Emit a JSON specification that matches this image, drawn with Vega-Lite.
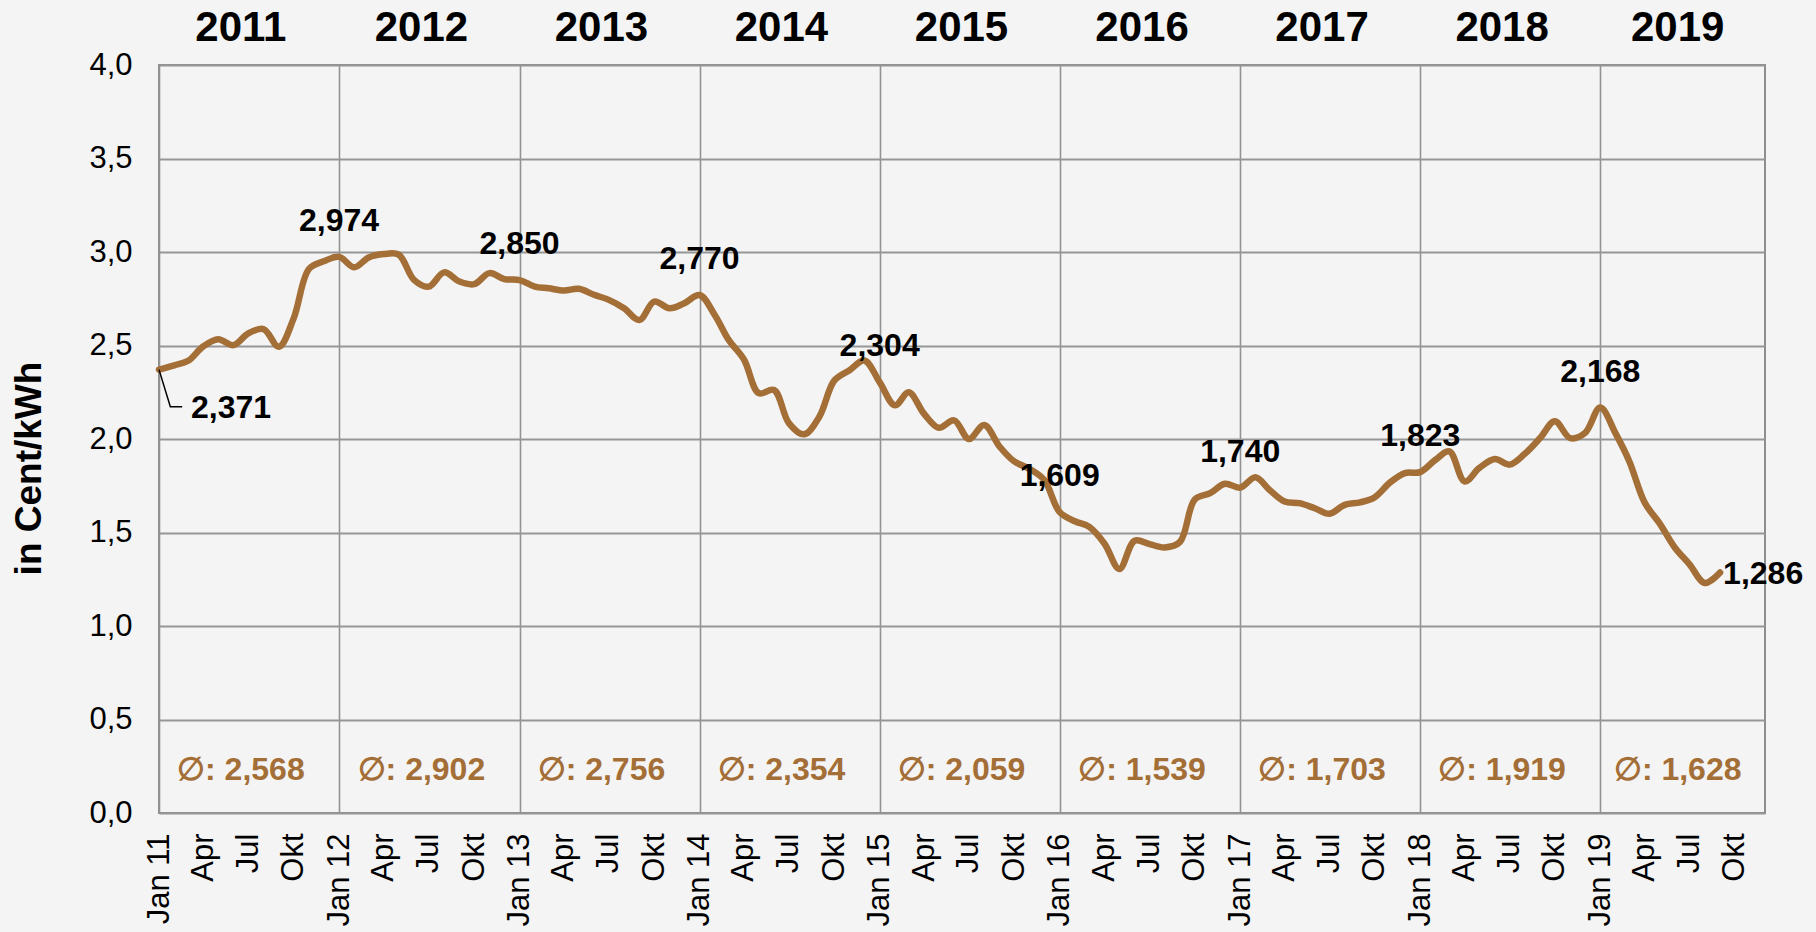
{
  "$schema": "https://vega.github.io/schema/vega-lite/v6.json",
  "width": 1606,
  "height": 748,
  "autosize": {"type": "none"},
  "padding": {"left": 159, "top": 65, "right": 51, "bottom": 119},
  "background": "#f4f4f4",
  "config": {
    "locale": {"number": {"decimal": ",", "thousands": ".", "grouping": [3], "currency": ["", " €"]}},
    "font": "Liberation Sans",
    "view": {"stroke": "#8e8e8e", "strokeWidth": 2}
  },
  "data": {
    "values": [
      {"month": "2011-01", "v": 2.371}, {"month": "2011-02", "v": 2.394}, {"month": "2011-03", "v": 2.418}, {"month": "2011-04", "v": 2.496},
      {"month": "2011-05", "v": 2.534}, {"month": "2011-06", "v": 2.502}, {"month": "2011-07", "v": 2.565}, {"month": "2011-08", "v": 2.588},
      {"month": "2011-09", "v": 2.493}, {"month": "2011-10", "v": 2.645}, {"month": "2011-11", "v": 2.909}, {"month": "2011-12", "v": 2.950},
      {"month": "2012-01", "v": 2.974}, {"month": "2012-02", "v": 2.918}, {"month": "2012-03", "v": 2.971}, {"month": "2012-04", "v": 2.989},
      {"month": "2012-05", "v": 2.986}, {"month": "2012-06", "v": 2.851}, {"month": "2012-07", "v": 2.815}, {"month": "2012-08", "v": 2.891},
      {"month": "2012-09", "v": 2.842}, {"month": "2012-10", "v": 2.828}, {"month": "2012-11", "v": 2.887}, {"month": "2012-12", "v": 2.855},
      {"month": "2013-01", "v": 2.850}, {"month": "2013-02", "v": 2.815}, {"month": "2013-03", "v": 2.806}, {"month": "2013-04", "v": 2.794},
      {"month": "2013-05", "v": 2.803}, {"month": "2013-06", "v": 2.771}, {"month": "2013-07", "v": 2.744}, {"month": "2013-08", "v": 2.699},
      {"month": "2013-09", "v": 2.636}, {"month": "2013-10", "v": 2.735}, {"month": "2013-11", "v": 2.699}, {"month": "2013-12", "v": 2.726},
      {"month": "2014-01", "v": 2.770}, {"month": "2014-02", "v": 2.662}, {"month": "2014-03", "v": 2.530}, {"month": "2014-04", "v": 2.425},
      {"month": "2014-05", "v": 2.245}, {"month": "2014-06", "v": 2.262}, {"month": "2014-07", "v": 2.085}, {"month": "2014-08", "v": 2.025},
      {"month": "2014-09", "v": 2.120}, {"month": "2014-10", "v": 2.312}, {"month": "2014-11", "v": 2.368}, {"month": "2014-12", "v": 2.420},
      {"month": "2015-01", "v": 2.304}, {"month": "2015-02", "v": 2.180}, {"month": "2015-03", "v": 2.250}, {"month": "2015-04", "v": 2.135},
      {"month": "2015-05", "v": 2.060}, {"month": "2015-06", "v": 2.100}, {"month": "2015-07", "v": 2.000}, {"month": "2015-08", "v": 2.075},
      {"month": "2015-09", "v": 1.960}, {"month": "2015-10", "v": 1.880}, {"month": "2015-11", "v": 1.840}, {"month": "2015-12", "v": 1.780},
      {"month": "2016-01", "v": 1.609}, {"month": "2016-02", "v": 1.560}, {"month": "2016-03", "v": 1.530}, {"month": "2016-04", "v": 1.440},
      {"month": "2016-05", "v": 1.305}, {"month": "2016-06", "v": 1.456}, {"month": "2016-07", "v": 1.438}, {"month": "2016-08", "v": 1.420},
      {"month": "2016-09", "v": 1.450}, {"month": "2016-10", "v": 1.677}, {"month": "2016-11", "v": 1.710}, {"month": "2016-12", "v": 1.761},
      {"month": "2017-01", "v": 1.740}, {"month": "2017-02", "v": 1.796}, {"month": "2017-03", "v": 1.729}, {"month": "2017-04", "v": 1.666},
      {"month": "2017-05", "v": 1.657}, {"month": "2017-06", "v": 1.630}, {"month": "2017-07", "v": 1.600}, {"month": "2017-08", "v": 1.648},
      {"month": "2017-09", "v": 1.661}, {"month": "2017-10", "v": 1.689}, {"month": "2017-11", "v": 1.768}, {"month": "2017-12", "v": 1.818},
      {"month": "2018-01", "v": 1.823}, {"month": "2018-02", "v": 1.889}, {"month": "2018-03", "v": 1.934}, {"month": "2018-04", "v": 1.773},
      {"month": "2018-05", "v": 1.845}, {"month": "2018-06", "v": 1.893}, {"month": "2018-07", "v": 1.863}, {"month": "2018-08", "v": 1.921},
      {"month": "2018-09", "v": 2.005}, {"month": "2018-10", "v": 2.095}, {"month": "2018-11", "v": 2.005}, {"month": "2018-12", "v": 2.032},
      {"month": "2019-01", "v": 2.168}, {"month": "2019-02", "v": 2.030}, {"month": "2019-03", "v": 1.880}, {"month": "2019-04", "v": 1.660},
      {"month": "2019-05", "v": 1.550}, {"month": "2019-06", "v": 1.420}, {"month": "2019-07", "v": 1.330}, {"month": "2019-08", "v": 1.230},
      {"month": "2019-09", "v": 1.286}
    ],
    "format": {"parse": {"month": "utc:'%Y-%m'"}}
  },
  "layer": [
    {
      "mark": {"type": "line", "color": "#a46e37", "strokeWidth": 6.5, "interpolate": "catmull-rom", "strokeCap": "round", "strokeJoin": "round"},
      "encoding": {
        "x": {
          "field": "month", "type": "temporal", "title": null,
          "scale": {"type": "utc", "domain": [{"year": 2011, "month": 1, "date": 1, "utc": true}, {"year": 2019, "month": 12, "date": 1, "utc": true}], "nice": false},
          "axis": {
            "tickCount": {"interval": "month", "step": 3},
            "labelExpr": "utcmonth(datum.value) == 0 ? 'Jan ' + utcFormat(datum.value, '%y') : (utcmonth(datum.value) == 3 ? 'Apr' : (utcmonth(datum.value) == 6 ? 'Jul' : 'Okt'))",
            "labelAngle": 270, "labelAlign": "right", "labelBaseline": "middle",
            "labelFontSize": 31, "labelColor": "#000000", "labelPadding": 20,
            "labelOverlap": false, "labelFlush": false, "labelBound": false,
            "ticks": false, "tickSize": 0, "domain": false,
            "grid": true, "gridColor": "#939393", "gridWidth": 1.6,
            "gridOpacity": {"condition": {"test": "utcmonth(datum.value) == 0", "value": 1}, "value": 0}
          }
        },
        "y": {
          "field": "v", "type": "quantitative",
          "scale": {"domain": [0, 4], "nice": false, "zero": false},
          "axis": {
            "values": [0, 0.5, 1, 1.5, 2, 2.5, 3, 3.5, 4],
            "format": ".1f",
            "labelFontSize": 31, "labelColor": "#000000", "labelPadding": 27,
            "ticks": false, "tickSize": 0, "domain": false,
            "grid": true, "gridColor": "#969696", "gridWidth": 2,
            "title": "in Cent/kWh", "titleFontSize": 37, "titleFontWeight": "bold", "titleColor": "#000000",
            "titleX": -129.5, "titleY": 403, "titleAngle": 270, "titleAlign": "center", "titleBaseline": "middle"
          }
        }
      }
    },
    {
      "transform": [{"filter": "utcmonth(datum.month) == 0 && utcyear(datum.month) > 2011"}],
      "mark": {"type": "text", "fontSize": 32, "fontWeight": "bold", "color": "#000000", "align": "center", "baseline": "middle", "dy": -36},
      "encoding": {
        "x": {"field": "month", "type": "temporal", "title": null},
        "y": {"field": "v", "type": "quantitative"},
        "text": {"field": "v", "type": "quantitative", "format": ".3f"}
      }
    },
    {
      "transform": [{"filter": "utcmonth(datum.month) == 0 && utcyear(datum.month) == 2011"}],
      "mark": {"type": "text", "fontSize": 32, "fontWeight": "bold", "color": "#000000", "align": "left", "baseline": "middle", "dx": 32, "dy": 38},
      "encoding": {
        "x": {"field": "month", "type": "temporal", "title": null},
        "y": {"field": "v", "type": "quantitative"},
        "text": {"field": "v", "type": "quantitative", "format": ".3f"}
      }
    },
    {
      "transform": [{"filter": "utcmonth(datum.month) == 8 && utcyear(datum.month) == 2019"}],
      "mark": {"type": "text", "fontSize": 32, "fontWeight": "bold", "color": "#000000", "align": "left", "baseline": "middle", "dx": 3, "dy": 1},
      "encoding": {
        "x": {"field": "month", "type": "temporal", "title": null},
        "y": {"field": "v", "type": "quantitative"},
        "text": {"field": "v", "type": "quantitative", "format": ".3f"}
      }
    },
    {
      "data": {
        "values": [
          {"d": "2011-01-01", "v": 2.371},
          {"d": "2011-01-24", "v": 2.172},
          {"d": "2011-02-17", "v": 2.172}
        ],
        "format": {"parse": {"d": "utc:'%Y-%m-%d'"}}
      },
      "mark": {"type": "line", "color": "#000000", "strokeWidth": 1.5},
      "encoding": {
        "x": {"field": "d", "type": "temporal", "title": null},
        "y": {"field": "v", "type": "quantitative"}
      }
    },
    {
      "data": {
        "values": [
          {"year": "2011", "mid": "2011-06-16", "avg": 2.568},
          {"year": "2012", "mid": "2012-06-16", "avg": 2.902},
          {"year": "2013", "mid": "2013-06-16", "avg": 2.756},
          {"year": "2014", "mid": "2014-06-16", "avg": 2.354},
          {"year": "2015", "mid": "2015-06-16", "avg": 2.059},
          {"year": "2016", "mid": "2016-06-16", "avg": 1.539},
          {"year": "2017", "mid": "2017-06-16", "avg": 1.703},
          {"year": "2018", "mid": "2018-06-16", "avg": 1.919},
          {"year": "2019", "mid": "2019-06-07", "avg": 1.628}
        ],
        "format": {"parse": {"mid": "utc:'%Y-%m-%d'"}}
      },
      "layer": [
        {
          "mark": {"type": "text", "fontSize": 42, "fontWeight": "bold", "color": "#000000", "align": "center", "baseline": "middle"},
          "encoding": {
            "x": {"field": "mid", "type": "temporal", "title": null},
            "y": {"datum": 4.2, "type": "quantitative"},
            "text": {"field": "year", "type": "nominal"}
          }
        },
        {
          "transform": [{"calculate": "'∅: ' + replace(format(datum.avg, '.3f'), '.', ',')", "as": "avgLabel"}],
          "mark": {"type": "text", "fontSize": 32, "fontWeight": "bold", "color": "#a46e37", "align": "center", "baseline": "middle"},
          "encoding": {
            "x": {"field": "mid", "type": "temporal", "title": null},
            "y": {"datum": 0.232, "type": "quantitative"},
            "text": {"field": "avgLabel", "type": "nominal"}
          }
        }
      ]
    }
  ]
}
